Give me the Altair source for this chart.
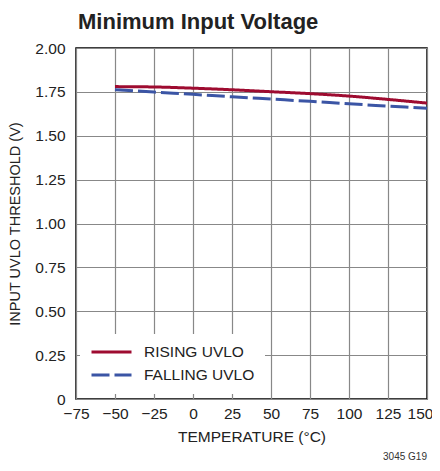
import altair as alt
import pandas as pd

temps = [-50, -25, 0, 25, 50, 75, 100, 125, 150]
rising = [1.780, 1.778, 1.771, 1.762, 1.751, 1.740, 1.726, 1.707, 1.686]
falling = [1.763, 1.749, 1.736, 1.722, 1.709, 1.696, 1.682, 1.669, 1.656]
series_names = ["RISING UVLO", "FALLING UVLO"]
x_ticks = [-75, -50, -25, 0, 25, 50, 75, 100, 125, 150]
y_ticks = [0, 0.25, 0.5, 0.75, 1.0, 1.25, 1.5, 1.75, 2.0]

rows = []
for t, r, f in zip(temps, rising, falling):
    rows.append({"t": t, "v": r, "s": series_names[0]})
    rows.append({"t": t, "v": f, "s": series_names[1]})
df = pd.DataFrame(rows)

FONT = "'Liberation Sans Narrow', 'Liberation Sans', Arial, sans-serif"

lines = alt.Chart(df).mark_line(strokeWidth=3, interpolate="monotone").encode(
    x=alt.X("t:Q", scale=alt.Scale(domain=[-75, 150], nice=False),
            axis=alt.Axis(values=x_ticks, title="TEMPERATURE (°C)",
                          labelExpr="replace(datum.label, '-', '−')",
                          labelOverlap=False, labelBound=False, labelFlush=False,
                          labelOffset={"condition": {"test": "datum.value == 150", "value": -7}, "value": 0},
                          labelFontSize=15.5, titleFontSize=15.5,
                          grid=True, ticks=False, domain=False,
                          labelPadding=7, titlePadding=8)),
    y=alt.Y("v:Q", scale=alt.Scale(domain=[0, 2], nice=False),
            axis=alt.Axis(values=y_ticks, title="INPUT UVLO THRESHOLD (V)",
                          labelExpr="datum.value == 0 ? '0' : format(datum.value, '.2f')",
                          labelOverlap=False, labelFontSize=15.5, titleFontSize=14.5,
                          grid=True, ticks=False, domain=False,
                          labelPadding=11, titlePadding=12)),
    color=alt.Color("s:N", scale=alt.Scale(domain=series_names, range=["#9E0B30", "#3B55A5"]),
                    legend=alt.Legend(title=None, orient="none", legendX=4, legendY=286,
                                      fillColor="white", padding=10,
                                      symbolType="stroke", symbolSize=1600,
                                      symbolStrokeWidth=3, labelFontSize=15.5,
                                      labelFont=FONT, labelColor="#222",
                                      clipHeight=16, rowPadding=6, labelOffset=11)),
    strokeDash=alt.StrokeDash("s:N", scale=alt.Scale(domain=series_names, range=[[1, 0], [18, 5]]),
                              legend=None),
)

note = alt.Chart(pd.DataFrame({"n": ["3045 G19"]})).mark_text(
    align="right", baseline="middle", fontSize=10, font=FONT, color="#333"
).encode(x=alt.value(351), y=alt.value(409), text="n:N")

chart = alt.layer(lines, note).properties(
    width=351, height=351,
    title=alt.TitleParams("Minimum Input Voltage", anchor="start", frame="group",
                          font=FONT, fontSize=22, fontWeight="bold", color="#222",
                          offset=7, dx=2),
    autosize=alt.AutoSizeParams(type="none"),
    padding={"left": 68, "top": 40, "right": 5, "bottom": 64},
).configure_view(stroke="black", strokeWidth=1.5).configure_axis(
    gridColor="#888", gridWidth=1.2, gridOpacity=1,
    labelFont=FONT, labelColor="#222",
    titleFont=FONT, titleFontWeight="normal", titleColor="#222",
)

chart.save("out.html", embed_options={"renderer": "svg", "actions": False})
